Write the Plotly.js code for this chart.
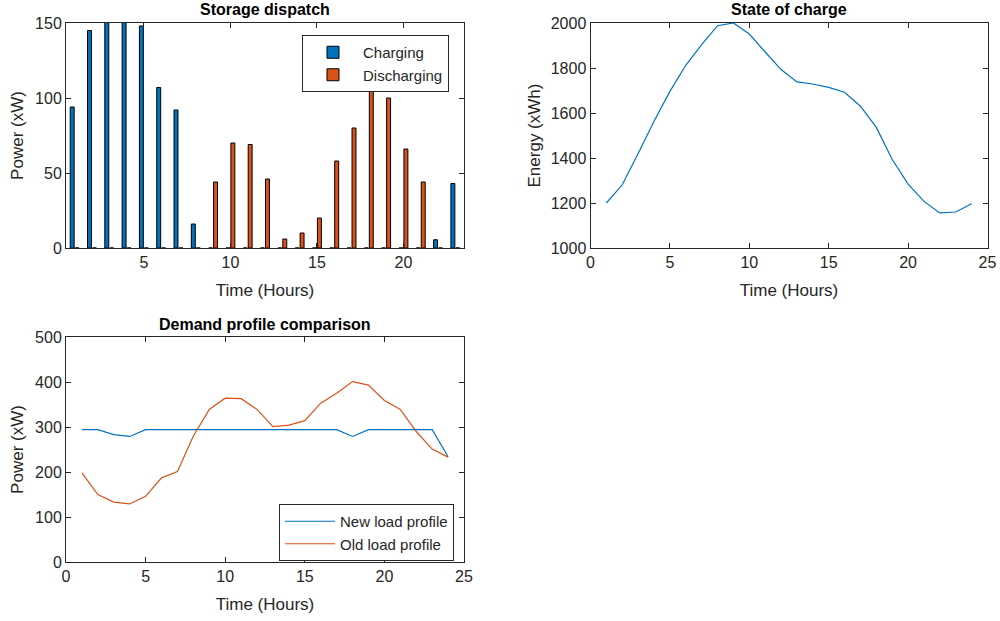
<!DOCTYPE html>
<html>
<head>
<meta charset="utf-8">
<script src="https://cdn.plot.ly/plotly-3.0.1.min.js"></script>
<style>html,body{margin:0;padding:0;background:#fff;}#chart{width:1000px;height:621px;}</style>
</head>
<body>
<div id="chart"></div>
<script>
// ---- data ----
const barHours = [1,2,3,4,5,6,7,8,9,10,11,12,13,14,15,16,17,18,19,20,21,22,23];
const charging = [94,145,151,151,148,107,92,16,0,0,0,0,0,0,0,0,0,0,0,0,0,5.5,43];
const discharging = [0,0,0,0,0,0,0,0,44,70,69,46,6,10,20,58,80,122,100,66,44,0,0];

const hours = [1,2,3,4,5,6,7,8,9,10,11,12,13,14,15,16,17,18,19,20,21,22,23,24];
const stateOfCharge = [1200,1281,1420,1563,1696,1812,1904,1988,2000,1951,1871,1793,1738,1729,1714,1692,1630,1536,1393,1284,1207,1156,1160,1197];
const newLoad = [294,294,283,279,294,294,294,294,294,294,294,294,294,294,294,294,294,279,294,294,294,294,294,234];
const oldLoad = [198,150,133,129,146,187,201,280,339,364,363,339,301,304,314,353,375,401,393,359,339,290,251,233];

const titles = ['Storage dispatch','State of charge','Demand profile comparison'];
const seriesNames = ['Charging','Discharging','New load profile','Old load profile'];

const BLUE = '#0072BD', ORANGE = '#D95319', AX = '#262626';
const FONT = 'Liberation Sans, Arial, sans-serif';

const traces = [
  {type:'bar', x:barHours, y:charging, name:seriesNames[0], xaxis:'x', yaxis:'y',
   marker:{color:BLUE, line:{color:'#000', width:1}}, legend:'legend'},
  {type:'bar', x:barHours, y:discharging, name:seriesNames[1], xaxis:'x', yaxis:'y',
   marker:{color:ORANGE, line:{color:'#000', width:1}}, legend:'legend'},
  {type:'scatter', mode:'lines', x:hours, y:stateOfCharge, xaxis:'x2', yaxis:'y2',
   line:{color:BLUE, width:1.2}, showlegend:false},
  {type:'scatter', mode:'lines', x:hours, y:newLoad, name:seriesNames[2], xaxis:'x3', yaxis:'y3',
   line:{color:BLUE, width:1.2}, legend:'legend2'},
  {type:'scatter', mode:'lines', x:hours, y:oldLoad, name:seriesNames[3], xaxis:'x3', yaxis:'y3',
   line:{color:ORANGE, width:1.2}, legend:'legend2'}
];

function ax(extra){
  return Object.assign({
    showline:true, linecolor:AX, linewidth:1, mirror:'ticks',
    ticks:'inside', ticklen:5, tickcolor:AX, tickwidth:1,
    showgrid:false, zeroline:false,
    tickfont:{family:FONT, size:16, color:AX}
  }, extra);
}
function axTitle(t, standoff){
  return {text:t, font:{family:FONT, size:17, color:AX}, standoff:standoff};
}

const yTop = [(621-248)/621, (621-23)/621];
const yBot = [(621-562)/621, (621-337)/621];

const layout = {
  width:1000, height:621,
  margin:{l:0, r:0, t:0, b:0},
  paper_bgcolor:'#fff', plot_bgcolor:'#fff',
  barmode:'group', bargap:0.429, bargroupgap:0.2,
  font:{family:FONT, color:AX},
  xaxis: ax({domain:[0.066,0.464], anchor:'y', range:[0.5,23.5], tickvals:[5,10,15,20], title:axTitle('Time (Hours)',13)}),
  yaxis: ax({domain:yTop, anchor:'x', range:[0,150], dtick:50, title:axTitle('Power (xW)',7)}),
  xaxis2: ax({domain:[0.5905,0.9875], anchor:'y2', range:[0,25], dtick:5, title:axTitle('Time (Hours)',13)}),
  yaxis2: ax({domain:yTop, anchor:'x2', range:[1000,2000], dtick:200, title:axTitle('Energy (xWh)',5)}),
  xaxis3: ax({domain:[0.066,0.464], anchor:'y3', range:[0,25], dtick:5, title:axTitle('Time (Hours)',13)}),
  yaxis3: ax({domain:yBot, anchor:'x3', range:[0,500], dtick:100, title:axTitle('Power (xW)',7)}),
  legend:{x:0.449, xanchor:'right', y:(621-35)/621, yanchor:'top', bgcolor:'#fff', itemwidth:50,
    bordercolor:AX, borderwidth:1, font:{family:FONT, size:15, color:AX}, traceorder:'normal'},
  legend2:{x:0.454, xanchor:'right', y:(621-504)/621, yanchor:'top', bgcolor:'#fff', itemwidth:50,
    bordercolor:AX, borderwidth:1, font:{family:FONT, size:15, color:AX}, traceorder:'normal'},
  annotations:[
    {text:'<b>'+titles[0]+'</b>', xref:'paper', yref:'paper', x:0.265, y:(621-10)/621, xanchor:'center', yanchor:'middle', showarrow:false, font:{family:FONT, size:16, color:'#000'}},
    {text:'<b>'+titles[1]+'</b>', xref:'paper', yref:'paper', x:0.789, y:(621-10)/621, xanchor:'center', yanchor:'middle', showarrow:false, font:{family:FONT, size:16, color:'#000'}},
    {text:'<b>'+titles[2]+'</b>', xref:'paper', yref:'paper', x:0.265, y:(621-324)/621, xanchor:'center', yanchor:'middle', showarrow:false, font:{family:FONT, size:16, color:'#000'}}
  ]
};

Plotly.newPlot('chart', traces, layout, {staticPlot:true, displayModeBar:false});
</script>
</body>
</html>
